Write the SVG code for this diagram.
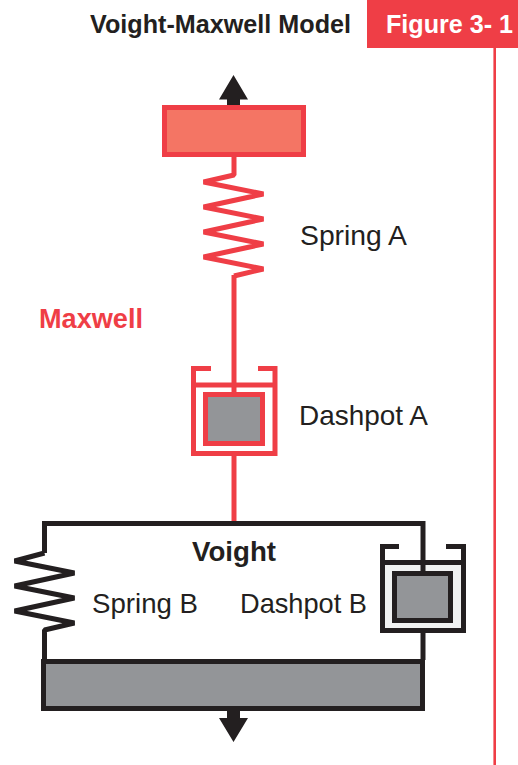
<svg xmlns="http://www.w3.org/2000/svg" width="518" height="765" viewBox="0 0 518 765">
<style>
text{font-family:"Liberation Sans",Arial,sans-serif}
.t{font-size:28px;fill:#231f20}
.b{font-weight:bold;fill:#231f20;font-size:27.500px}
.r,.k,.rf,.kf{stroke-width:5;stroke-linejoin:miter;stroke-miterlimit:10}
.r{fill:none;stroke:#ef3e46}
.k{fill:none;stroke:#231f20}
.s{stroke-linejoin:bevel}
.rf{stroke:#ef3e46}
.kf{stroke:#231f20}
.g{fill:#939598}
.a{fill:#231f20}
</style>
<rect width="518" height="765" fill="#fff"/>
<g id="header">
<rect x="367" y="0" width="151" height="48" fill="#ef3e46"/>
<text x="90" y="33" font-size="25" font-weight="bold" fill="#231f20" textLength="261" lengthAdjust="spacingAndGlyphs">Voight-Maxwell Model</text>
<text x="386" y="33" font-size="25" font-weight="bold" fill="#fff" textLength="127" lengthAdjust="spacingAndGlyphs">Figure 3- 1</text>
</g>
<g id="connectors">
<path d="M494.700 48V765" stroke="#ef3e46" stroke-width="2.600" fill="none"/>
<path class="r" d="M234 275V393"/>
<path class="r" d="M234 456V522"/>
<path class="k" d="M423 633V660"/>
</g>
<g id="arrow-top"><path class="a" d="M233.500 75L248 99.500H240V106H227V99.500H219Z"/></g>
<g id="block-top"><rect class="rf" x="164.500" y="107.500" width="139" height="47" fill="#f47564"/></g>
<g id="spring-a">
<path class="r s" d="M234 157V175L203.600 182L263.400 194L203.600 207L263.400 219L203.600 232L263.400 244L203.600 257L263.400 269L234 276"/>
</g>
<g id="dashpot-a">
<path class="r" d="M211 368.500H193.500V453.500H275V368.500H258"/>
<path class="r" d="M191 385H277"/>
<rect class="rf g" x="205.500" y="394.500" width="57" height="49"/>
</g>
<g id="voight-frame">
<path class="k" d="M44.500 553V523.500H423"/>
</g>
<g id="spring-b">
<path class="k s" d="M44.500 553L14.600 561L74.400 573L14.600 586L74.400 598L14.600 611L74.400 623L44.500 630V660"/>
</g>
<g id="dashpot-b">
<rect x="382.500" y="562.500" width="81" height="68" fill="#f1f2f2"/>
<path class="k" d="M399 546.500H382.500V630.500H463.500V546.500H446"/>
<path class="k" d="M380 562.500H466"/>
<path class="k" d="M423 521V571"/>
<rect class="kf g" x="394.500" y="573.500" width="56" height="47"/>
</g>
<g id="block-bottom"><rect class="kf g" x="43.500" y="661.500" width="379" height="47"/></g>
<g id="arrow-bottom"><path class="a" d="M227 711H240V718H248L233.500 742L219 718H227Z"/></g>
<g id="labels">
<text x="300" y="245" class="t" textLength="107" lengthAdjust="spacingAndGlyphs">Spring A</text>
<text x="299" y="425" class="t" textLength="129" lengthAdjust="spacingAndGlyphs">Dashpot A</text>
<text x="92" y="613" class="t" textLength="106" lengthAdjust="spacingAndGlyphs">Spring B</text>
<text x="240" y="613" class="t" textLength="127" lengthAdjust="spacingAndGlyphs">Dashpot B</text>
<text x="192" y="561" class="b" textLength="84" lengthAdjust="spacingAndGlyphs">Voight</text>
<text x="39" y="328" font-size="27.500" font-weight="bold" fill="#ef3e46" textLength="104" lengthAdjust="spacingAndGlyphs">Maxwell</text>
</g>
</svg>
